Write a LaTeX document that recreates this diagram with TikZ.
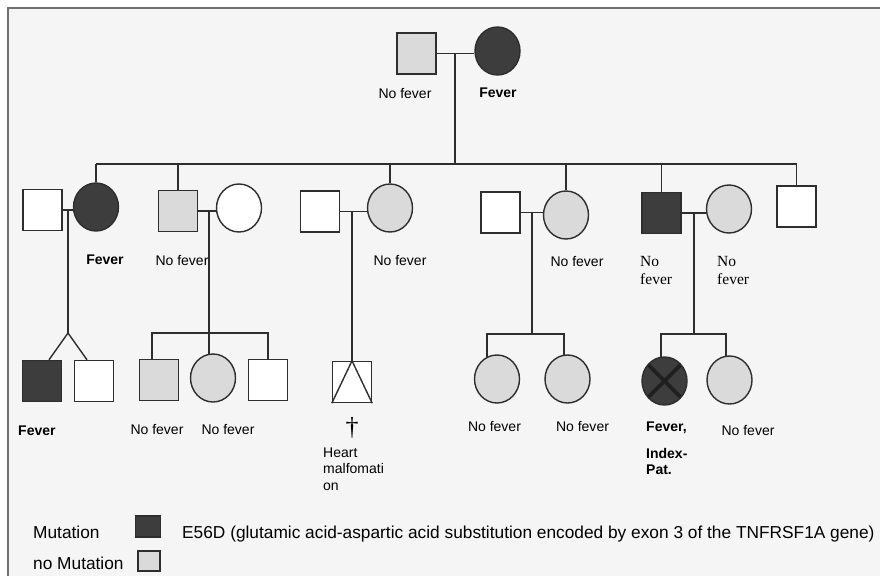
\documentclass[tikz,border=0pt]{standalone}
\usepackage{fontspec}
\setmainfont{Liberation Sans}
\newfontfamily\serifft{Liberation Serif}
\usetikzlibrary{shapes.geometric,backgrounds}
\definecolor{ink}{HTML}{2E2E2E}
\definecolor{darkfill}{HTML}{3D3D3D}
\definecolor{lightfill}{HTML}{DADADA}
\definecolor{paper}{HTML}{F5F5F5}
\definecolor{framec}{HTML}{707070}
\begin{document}
\begin{tikzpicture}[x=1pt,y=-1pt,
  male/.style={rectangle, draw=ink, line width=1.4pt, minimum width=39pt, minimum height=41pt, inner sep=0pt},
  female/.style={ellipse, draw=ink, line width=1.4pt, minimum width=45pt, minimum height=48pt, inner sep=0pt},
  aff/.style={fill=darkfill},
  carr/.style={fill=lightfill},
  none/.style={fill=white},
  link/.style={draw=ink, line width=1.4pt},
  lbl/.style={font=\fontsize{14}{17}\selectfont, inner sep=0pt, anchor=base},
  blbl/.style={font=\fontsize{14}{17}\selectfont\bfseries, inner sep=0pt, anchor=base},
  slbl/.style={font=\fontsize{15.5}{18}\selectfont\serifft, inner sep=0pt, anchor=base west},
  leg/.style={font=\fontsize{17.3}{20}\selectfont, inner sep=0pt, anchor=base west},
  legbox/.style={rectangle, draw=ink, line width=1.4pt, inner sep=0pt}
]
\useasboundingbox (0,0) rectangle (880,576);

% ---------- individuals ----------
% generation I
\node[male,carr] (I1) at (416.5,53.5) {};
\node[female,aff] (I2) at (497.5,51) {};
% generation II
\node[male,none] (A1) at (42.5,210) {};
\node[female,aff] (A2) at (96,207) {};
\node[male,carr] (B1) at (178,211) {};
\node[female,none] (B2) at (239,208) {};
\node[male,none] (C1) at (320,211.5) {};
\node[female,carr] (C2) at (390,208) {};
\node[male,none] (D1) at (500.5,212.5) {};
\node[female,carr] (D2) at (566,215) {};
\node[male,aff] (E1) at (661.5,213) {};
\node[female,carr] (E2) at (729,209) {};
\node[male,none] (F1) at (796.5,206.5) {};
% generation III
\node[male,aff] (G1) at (42,381) {};
\node[male,none] (G2) at (94,381) {};
\node[male,carr] (H1) at (159,380) {};
\node[female,carr] (H2) at (213,378) {};
\node[male,none] (H3) at (268,380) {};
\node[male,none] (J1) at (352,382) {};
\node[female,carr] (K1) at (497,379) {};
\node[female,carr] (K2) at (567.5,379) {};
\node[female,aff] (L1) at (664.5,381) {};
\node[female,carr] (L2) at (729.5,380) {};

% marks inside symbols
\draw[link] (J1.south west) -- (J1.north) -- (J1.south east);
\draw[line width=3.6pt, color=black!88, shorten <=1.5pt, shorten >=1.5pt] (L1.45) -- (L1.225);
\draw[line width=3.6pt, color=black!88, shorten <=1.5pt, shorten >=1.5pt] (L1.135) -- (L1.315);

% ---------- coordinates of lines ----------
\coordinate (mI) at (455,53.5);
\coordinate (sI) at (455,164);
\coordinate (mA) at (68,210);
\coordinate (tA) at (68,333);
\coordinate (mB) at (209,211);
\coordinate (sB) at (209,333);
\coordinate (mC) at (352,211.5);
\coordinate (mD) at (532,212.5);
\coordinate (sD) at (532,334);
\coordinate (mE) at (694,213);
\coordinate (sE) at (694,334);

% ---------- background and connectors ----------
\begin{pgfonlayer}{background}
\fill[paper] (8,8) rectangle (880,576);
\draw[framec, line width=2pt] (8,576) -- (8,8) -- (880,8);
% generation I
\draw[link] (I1.east) -- (I1.east -| I2.west);
\draw[link] (mI) -- (sI);
\draw[link] (sI -| A2.north) -- (sI -| F1.north);
\foreach \n in {A2,B1,C2,D2,E1,F1} {\draw[link] (\n.north) -- (\n.north |- sI);}
% family A
\draw[link] (A1.east) -- (A1.east -| A2.west);
\draw[link] (mA) -- (tA);
\draw[link] ([xshift=7pt]G1.north) -- (tA) -- ([xshift=-7pt]G2.north);
% family B
\draw[link] (B1.east) -- (B1.east -| B2.west);
\draw[link] (mB) -- ([yshift=-4pt]mB |- H2.north);
\draw[link] ([xshift=-7pt]H1.north) |- (sB) -| (H3.north);
% family C
\draw[link] (C1.east) -- (C1.east -| C2.west);
\draw[link] (mC) -- (J1.north);
% family D
\draw[link] (D1.east) -- (D1.east -| D2.west);
\draw[link] (mD) -- (sD);
\draw[link] ([xshift=-10pt,yshift=-5pt]K1.north) |- (sD) -| ([xshift=-3.5pt,yshift=-3pt]K2.north);
% family E
\draw[link] (E1.east) -- (E1.east -| E2.west);
\draw[link] (mE) -- (sE);
\draw[link] ([xshift=-3.5pt,yshift=-3pt]L1.north) |- (sE) -| ([xshift=-3.5pt,yshift=-3pt]L2.north);
\end{pgfonlayer}

% ---------- labels ----------
\node[lbl] (tI1) at (405,98) {No fever};
\node[blbl] (tI2) at (498,97) {Fever};
\node[blbl] (tA2) at (105,264) {Fever};
\node[lbl] (tB1) at (182,265) {No fever};
\node[lbl] (tC2) at (400,265) {No fever};
\node[lbl] (tD2) at (577,266) {No fever};
\node[slbl] (tE1a) at (640,266) {No};
\node[slbl] (tE1b) at (640,284) {fever};
\node[slbl] (tE2a) at (717,266) {No};
\node[slbl] (tE2b) at (717,284) {fever};
\node[blbl,anchor=base west] (tG1) at (18,435) {Fever};
\node[lbl] (tH1) at (157,434) {No fever};
\node[lbl] (tH2) at (228,434) {No fever};
\node[font=\fontsize{26}{26}\selectfont\serifft, inner sep=0pt] (dJ) at (352,428) {†};
\node[lbl,anchor=base west] (tJa) at (323,457) {Heart};
\node[lbl,anchor=base west] (tJb) at (323,473.5) {malfomati};
\node[lbl,anchor=base west] (tJc) at (323,490) {on};
\node[lbl] (tK1) at (494.5,431) {No fever};
\node[lbl] (tK2) at (582.5,431) {No fever};
\node[blbl,anchor=base west] (tL1a) at (646,431) {Fever,};
\node[blbl,anchor=base west] (tL1b) at (646,458) {Index-};
\node[blbl,anchor=base west] (tL1c) at (646,474) {Pat.};
\node[lbl] (tL2) at (748,435) {No fever};

% ---------- legend ----------
\node[leg] (lg1) at (33,538) {Mutation};
\node[legbox, fill=darkfill, minimum width=25pt, minimum height=21pt] (lgA) at (148,526.5) {};
\node[leg] (lg2) at (182,538) {E56D (glutamic acid-aspartic acid substitution encoded by exon 3 of the TNFRSF1A gene)};
\node[leg] (lg3) at (33,569) {no Mutation};
\node[legbox, fill=lightfill, minimum width=22pt, minimum height=20pt] (lgB) at (149,561) {};
\end{tikzpicture}
\end{document}
